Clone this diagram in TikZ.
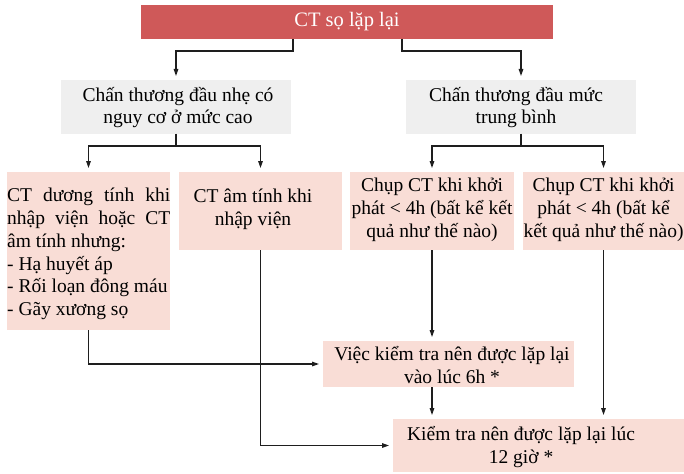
\documentclass[tikz,border=0pt]{standalone}
\usepackage{fontspec}
\setmainfont{Liberation Serif}
\usetikzlibrary{arrows.meta}
\definecolor{redbox}{RGB}{207,89,89}
\definecolor{graybox}{RGB}{239,239,239}
\definecolor{pinkbox}{RGB}{249,221,214}
\definecolor{linec}{RGB}{30,30,30}
\begin{document}
\begin{tikzpicture}[x=1pt,y=-1pt,
  boxbase/.style={draw=none, inner sep=0pt, outer sep=0pt},
  redb/.style={boxbase, fill=redbox},
  grayb/.style={boxbase, fill=graybox},
  pinkb/.style={boxbase, fill=pinkbox},
  txt/.style={inner sep=0pt, align=center, font=\fontsize{19.5}{22.8}\selectfont},
  arr/.style={draw=linec, line width=1.1pt, -{Triangle[length=7pt,width=4.6pt]}, shorten >=4pt},
]
\useasboundingbox (0,0) rectangle (684,473);
% boxes
\node[redb, minimum width=412pt, minimum height=34pt] (top) at (347,22) {};
\node[grayb, minimum width=230pt, minimum height=54pt] (G1) at (176,107) {};
\node[grayb, minimum width=230pt, minimum height=54pt] (G2) at (521,107) {};
\node[pinkb, minimum width=163pt, minimum height=158pt] (A) at (88.5,251) {};
\node[pinkb, minimum width=163pt, minimum height=78pt] (B) at (260.5,211) {};
\node[pinkb, minimum width=164pt, minimum height=78pt] (C) at (432,211) {};
\node[pinkb, minimum width=161pt, minimum height=78pt] (D) at (603.5,211) {};
\node[pinkb, minimum width=251pt, minimum height=46pt] (E) at (448.5,364) {};
\node[pinkb, minimum width=291pt, minimum height=53pt] (F) at (538.5,445.5) {};
% texts
\node[txt, text=white, font=\fontsize{20.5}{24}\selectfont] (topt) at (347,22) {CT sọ lặp lại};
\node[txt] (G1t) at (178,107.5) {Chấn thương đầu nhẹ có\\nguy cơ ở mức cao};
\node[txt] (G2t) at (516,107.5) {Chấn thương đầu mức\\trung bình};
\node[txt, align=left, anchor=north west] (At) at (7,188)
  {\hbox to 163pt{CT\hfill dương\hfill tính\hfill khi}\\
   \hbox to 163pt{nhập\hfill viện\hfill hoặc\hfill CT}\\
   âm tính nhưng:\\- Hạ huyết áp\\- Rối loạn đông máu\\- Gãy xương sọ};
\node[txt] (Bt) at (253,209) {CT âm tính khi\\nhập viện};
\node[txt] (Ct) at (432,210) {Chụp CT khi khởi\\phát < 4h (bất kể kết\\quả như thế nào)};
\node[txt] (Dt) at (603.5,210) {Chụp CT khi khởi\\phát < 4h (bất kể\\kết quả như thế nào)};
\node[txt] (Et) at (452,365) {Việc kiểm tra nên được lặp lại\\vào lúc 6h *};
\node[txt] (Ft) at (521,447) {Kiểm tra nên được lặp lại lúc\\12 giờ *};
% connectors
\coordinate (t1) at (293,0);
\coordinate (t2) at (402,0);
\draw[arr] (top.south -| t1) -- ++(0,12) -| (G1.north);
\draw[arr] (top.south -| t2) -- ++(0,12) -| (G2.north);
\draw[arr] (G1.south) -- ++(0,12) -| (A.north);
\draw[arr] (G1.south) -- ++(0,12) -| (B.north);
\draw[arr] (G2.south) -- ++(0,12) -| (C.north);
\draw[arr] (G2.south) -- ++(0,12) -| (D.north);
\draw[arr] (A.south) |- (E.west);
\draw[arr] (B.south) |- (F.west);
\draw[arr] (C.south) -- (C.south |- E.north);
\draw[arr] (E.south -| C.south) -- (F.north -| C.south);
\draw[arr] (D.south) -- (D.south |- F.north);
\end{tikzpicture}
\end{document}
